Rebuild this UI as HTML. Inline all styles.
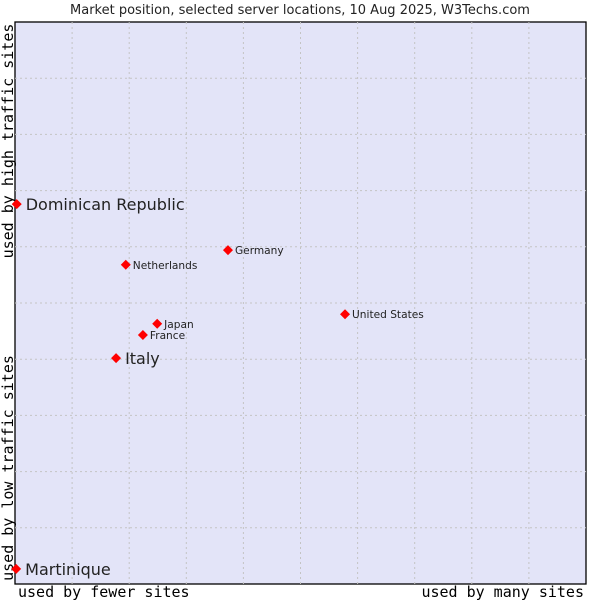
<!DOCTYPE html>
<html><head><meta charset="utf-8"><style>
body{margin:0;background:#fff;width:600px;height:600px;overflow:hidden}
svg{display:block}
</style></head><body>
<svg id="chart" width="600" height="600">
<text x="300" y="14" text-anchor="middle" font-family="DejaVu Sans, sans-serif" font-size="13" fill="#222">Market position, selected server locations, 10 Aug 2025, W3Techs.com</text>
<rect x="15" y="22" width="571" height="562" fill="#e3e4f8" stroke="#000" stroke-width="1.3"/>
<g id="grid"></g>
<text transform="translate(13,141) rotate(-90)" text-anchor="middle" font-family="DejaVu Sans Mono, Liberation Mono, monospace" font-size="15" fill="#000">used by high traffic sites</text>
<text transform="translate(13,468) rotate(-90)" text-anchor="middle" font-family="DejaVu Sans Mono, Liberation Mono, monospace" font-size="15" fill="#000">used by low traffic sites</text>
<text x="18" y="597" font-family="DejaVu Sans Mono, Liberation Mono, monospace" font-size="15" fill="#000">used by fewer sites</text>
<text x="584" y="597" text-anchor="end" font-family="DejaVu Sans Mono, Liberation Mono, monospace" font-size="15" fill="#000">used by many sites</text>
<g id="points"></g>
</svg>
<script>
const names=["Dominican Republic","Germany","Netherlands","United States","Japan","France","Italy","Martinique"];
const xVals=[0.3,37.3,19.4,57.8,24.9,22.4,17.7,0.2];
const yVals=[67.6,59.4,56.8,48.0,46.3,44.3,40.2,2.7];
const big=[true,false,false,false,false,false,true,true];
const X0=15,W=571,Y0=22,H=562;
const sx=v=>X0+v/100*W, sy=v=>Y0+H-v/100*H;
const NS="http://www.w3.org/2000/svg";
const grid=document.getElementById('grid');
for(let i=1;i<10;i++){
 const l=document.createElementNS(NS,'line');
 l.setAttribute('x1',X0+i*W/10);l.setAttribute('x2',X0+i*W/10);l.setAttribute('y1',Y0);l.setAttribute('y2',Y0+H);
 l.setAttribute('stroke','#c4c4c4');l.setAttribute('stroke-dasharray','2,3');
 
 
 grid.appendChild(l);
 const h=document.createElementNS(NS,'line');
 h.setAttribute('y1',Y0+i*H/10);h.setAttribute('y2',Y0+i*H/10);h.setAttribute('x1',X0);h.setAttribute('x2',X0+W);
 h.setAttribute('stroke','#c4c4c4');h.setAttribute('stroke-dasharray','2,3');
 
 
 grid.appendChild(h);
}
const pts=document.getElementById('points');
names.forEach((n,i)=>{
 const x=sx(xVals[i]),y=sy(yVals[i]);
 const g=document.createElementNS(NS,'g');
 
 
 const p=document.createElementNS(NS,'polygon');
 p.setAttribute('points',`${x-5},${y} ${x},${y-5} ${x+5},${y} ${x},${y+5}`);
 p.setAttribute('fill','#f00');
 g.appendChild(p);
 const t=document.createElementNS(NS,'text');
 t.setAttribute('x',x+(big[i]?9:7));t.setAttribute('y',y+(big[i]?6:4));
 t.setAttribute('font-family','DejaVu Sans, sans-serif');
 t.setAttribute('font-size',big[i]?16:10.6);
 t.setAttribute('fill','#222');
 t.textContent=n;
 g.appendChild(t);
 pts.appendChild(g);
});
</script>
</body></html>
